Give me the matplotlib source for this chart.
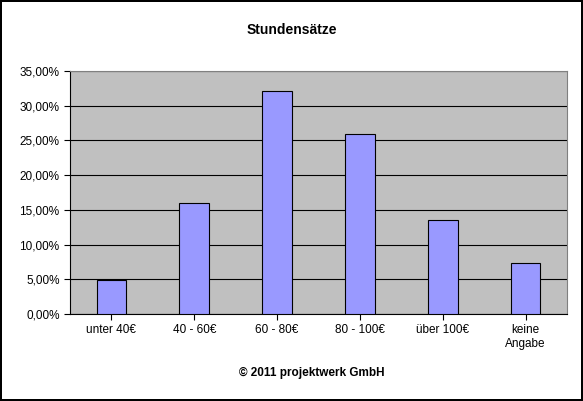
import matplotlib.pyplot as plt
from matplotlib.ticker import FuncFormatter

categories = ['unter 40€', '40 - 60€', '60 - 80€', '80 - 100€', 'über 100€', 'keine\nAngabe']
values = [4.9, 16.0, 32.1, 25.9, 13.5, 7.3]
yticks = [0, 5, 10, 15, 20, 25, 30, 35]

plt.rcParams['font.family'] = ['Liberation Sans', 'DejaVu Sans']
fig = plt.figure(figsize=(5.83, 4.01), dpi=100)
fig.patch.set_edgecolor('black')
fig.patch.set_linewidth(1.5)
ax = fig.add_axes([70 / 583, 1 - 314 / 401, 497 / 583, 243 / 401])
ax.set_facecolor('#C0C0C0')
x = range(len(categories))
ax.bar(x, values, width=0.36, color='#9999FF', edgecolor='black', linewidth=0.8, zorder=3)
ax.set_xlim(-0.5, len(categories) - 0.5)
ax.set_ylim(0, 35)
ax.set_yticks(yticks)
ax.yaxis.set_major_formatter(FuncFormatter(lambda v, p: f'{v:.2f}%'.replace('.', ',')))
ax.grid(axis='y', color='black', linewidth=0.8, zorder=1)
ax.set_xticks(list(x))
ax.set_xticklabels(categories, fontsize=8.5)
ax.tick_params(axis='y', labelsize=8.5, length=4)
ax.tick_params(axis='x', length=4)
for s in ax.spines.values():
    s.set_color('#808080')
ax.spines['left'].set_color('black')
ax.spines['bottom'].set_color('black')
fig.text(292 / 583, 1 - 30 / 401, 'Stundensätze', ha='center', va='center', fontsize=10, fontweight='bold')
fig.text(312 / 583, 1 - 373 / 401, '© 2011 projektwerk GmbH', ha='center', va='center', fontsize=8.5, fontweight='bold')
fig.savefig('out.png', dpi=100, edgecolor=fig.get_edgecolor())
